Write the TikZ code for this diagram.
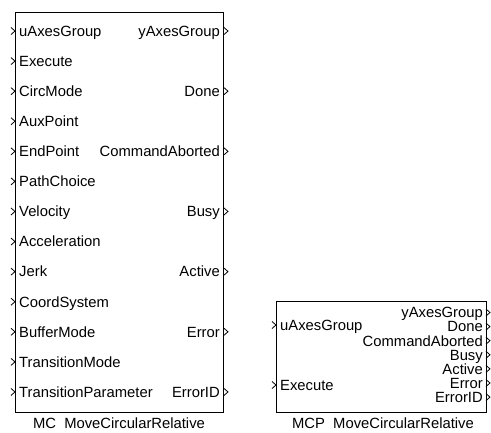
\documentclass[tikz,border=0pt]{standalone}
\usepackage{fontspec}
\setmainfont{Liberation Sans}
\begin{document}
\begin{tikzpicture}[x=1pt,y=-1pt,
  blk/.style={draw=black, line width=0.9pt, inner sep=0pt, anchor=north west},
  inlbl/.style={anchor=base west, inner sep=0pt, font=\fontsize{14.8}{16}\selectfont},
  outlbl/.style={anchor=base east, inner sep=0pt, font=\fontsize{14.8}{16}\selectfont},
  captxt/.style={anchor=base, inner sep=0pt, font=\fontsize{14.8}{16}\selectfont},
  chev/.style={draw=black, line width=0.8pt}]
\useasboundingbox (0,0) rectangle (491,432);
% left block
\node[blk, minimum width=208pt, minimum height=400pt] (mc) at (15,12) {};
\foreach \t [count=\i from 0] in {uAxesGroup,Execute,CircMode,AuxPoint,EndPoint,PathChoice,Velocity,Acceleration,Jerk,CoordSystem,BufferMode,TransitionMode,TransitionParameter}{
  \pgfmathsetmacro{\yy}{31+30.08*\i}
  \node[inlbl] (mcin\i) at (19,\yy+5.3) {\t};
  \draw[chev] (11,\yy-3.5) -- (15,\yy) -- (11,\yy+3.5);
}
\foreach \t [count=\i from 0] in {yAxesGroup,Done,CommandAborted,Busy,Active,Error,ErrorID}{
  \pgfmathsetmacro{\yy}{31+60.16*\i}
  \node[outlbl] (mcout\i) at (220,\yy+5.3) {\t};
  \draw[chev] (224,\yy-3.5) -- (228,\yy) -- (224,\yy+3.5);
}
\node[captxt] (mccap) at (119,428) {MC~~MoveCircularRelative};
% right block
\node[blk, minimum width=210pt, minimum height=111pt] (mcp) at (276,301) {};
\node[inlbl] (mcpin0) at (280,325+5.3) {uAxesGroup};
\draw[chev] (272,325-3.5) -- (276,325) -- (272,325+3.5);
\node[inlbl] (mcpin1) at (280,385+5.3) {Execute};
\draw[chev] (272,385-3.5) -- (276,385) -- (272,385+3.5);
\foreach \t [count=\i from 0] in {yAxesGroup,Done,CommandAborted,Busy,Active,Error,ErrorID}{
  \pgfmathsetmacro{\yy}{312.5+14.1*\i}
  \node[outlbl] (mcpout\i) at (483,\yy+5.3) {\t};
  \draw[chev] (486,\yy-3.5) -- (490,\yy) -- (486,\yy+3.5);
}
\node[captxt] (mcpcap) at (383,428) {MCP~~MoveCircularRelative};
\end{tikzpicture}
\end{document}
